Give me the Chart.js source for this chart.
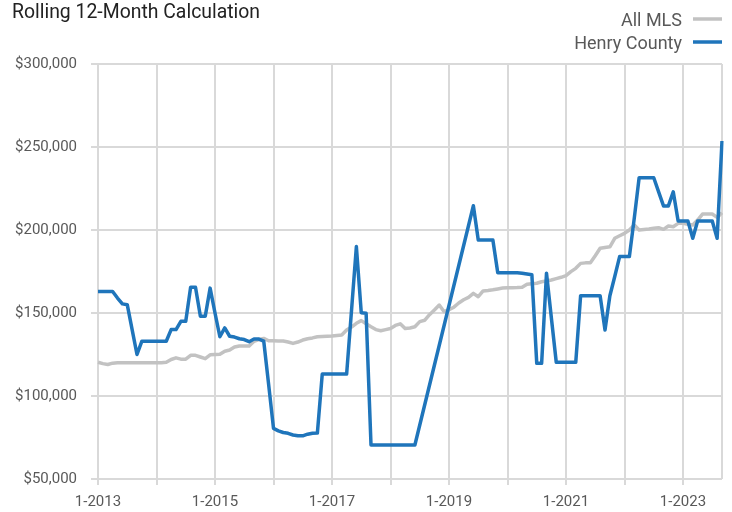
<!doctype html>
<html lang="en">
<head>
  <meta charset="utf-8">
  <title>Rolling 12-Month Calculation</title>
  <script src="https://cdn.jsdelivr.net/npm/chart.js"></script>
  <style>
    body { margin: 0; background: #fff; }
    #chart { display: block; }
  </style>
</head>
<body>
<canvas id="chart" width="732" height="512"></canvas>
<script>
// months 1-2013 .. 9-2023
const startYear = 2013;
const monthCount = 129;
const monthLabels = [];
for (let i = 0; i < monthCount; i++) {
  monthLabels.push((i % 12 + 1) + '-' + (startYear + Math.floor(i / 12)));
}

const seriesNames = ['All MLS', 'Henry County'];
const seriesColors = ['#c2c2c2', '#1f75bb'];

const allMls = [
  120300, 119500, 119000, 119800, 120000, 120000, 120000, 120000, 120000, 120000, 120000, 120000,
  120000, 120000, 120300, 122000, 123000, 122200, 122200, 124500, 124500, 123500, 122500, 124800,
  125000, 125200, 127000, 127700, 129500, 130100, 130100, 130100, 133000, 134000, 134700, 133300,
  133300, 133200, 133100, 132500, 131700, 132500, 133700, 134500, 135000, 135700, 135900, 136000,
  136100, 136500, 136700, 139700, 141500, 143800, 145400, 143500, 141700, 140000, 139300, 140000,
  140700, 142500, 143500, 140600, 141000, 141700, 144800, 145600, 149000, 151800, 154800, 150800,
  152000, 153500, 156000, 158000, 159400, 161800, 159800, 163300, 163600, 164000, 164500, 165000,
  165200, 165200, 165300, 165500, 167300, 167600, 167900, 168800, 169300, 169900, 170700, 171500,
  172500, 174900, 176900, 179900, 180200, 180300, 184500, 189000, 189500, 189900, 195000, 196500,
  198000, 200000, 203000, 200000, 200300, 200600, 201000, 201400, 200400, 202400, 202000, 204000,
  204000, 203500, 203000, 206000, 209600, 209600, 209600, 207600, 210400
];

const henryCounty = [
  163000, 163000, 163000, 163000, 159000, 155500, 155000, 140000, 125000, 133000, 133000, 133000,
  133000, 133000, 133000, 140000, 140000, 145000, 145000, 165500, 165500, 148000, 148000, 165000,
  150000, 135700, 141000, 136000, 135500, 134500, 134000, 132700, 134300, 134300, 133000, 107000,
  80500, 79000, 78000, 77500, 76500, 76000, 76000, 77000, 77600, 77700, 113200, 113200,
  113200, 113200, 113200, 113200, 151500, 190000, 150200, 149800, 70500, 70500, 70500, 70500,
  70500, 70500, 70500, 70500, 70500, 70500, null, null, null, null, null, null,
  null, null, null, null, null, 214600, 194000, 194000, 194000, 194000, 174300, 174300,
  174300, 174300, 174300, 174000, 173500, 173000, 119700, 119700, 174000, 147000, 120300, 120300,
  120300, 120300, 120300, 160400, 160400, 160400, 160400, 160400, 139800, 160400, 172000, 184000,
  184000, 184000, 207000, 231500, 231500, 231500, 231500, 223000, 214500, 214500, 223000, 205400,
  205400, 205400, 195000, 205400, 205400, 205400, 205400, 195000, 253600
];

const yTicks = [50000, 100000, 150000, 200000, 250000, 300000];

const FONT = 'Roboto, "Liberation Sans", sans-serif';
const GRID = '#d9d9d9';

// title and a legend with the line sample on the right
const headerPlugin = {
  id: 'header',
  afterDraw(chart) {
    const c = chart.ctx;
    c.save();
    c.fillStyle = '#222';
    c.font = '19.4px ' + FONT;
    c.textAlign = 'left';
    c.textBaseline = 'alphabetic';
    c.fillText('Rolling 12-Month Calculation', 12, 18);

    c.font = '18px ' + FONT;
    c.textAlign = 'right';
    const rows = [26, 49];
    seriesNames.forEach((name, i) => {
      c.fillStyle = '#595959';
      c.fillText(name, 682, rows[i]);
      c.strokeStyle = seriesColors[i];
      c.lineWidth = 3.5;
      c.beginPath();
      c.moveTo(693, rows[i] - 7);
      c.lineTo(722, rows[i] - 7);
      c.stroke();
    });
    c.restore();
  }
};

const ctx = document.getElementById('chart').getContext('2d');
const chart = new Chart(ctx, {
  type: 'line',
  data: {
    labels: monthLabels,
    datasets: [
      {
        label: seriesNames[1],
        data: henryCounty,
        borderColor: seriesColors[1],
        borderWidth: 3.5,
        spanGaps: true
      },
      {
        label: seriesNames[0],
        data: allMls,
        borderColor: seriesColors[0],
        borderWidth: 3.5
      }
    ]
  },
  options: {
    responsive: false,
    animation: false,
    layout: { padding: { top: 64, right: 10, left: 0, bottom: 0 } },
    elements: { point: { radius: 0 }, line: { tension: 0, borderJoinStyle: 'round' } },
    plugins: {
      legend: { display: false },
      title: { display: false },
      tooltip: { enabled: false }
    },
    scales: {
      x: {
        afterFit(scale) { scale.height = 33; },
        border: { display: false },
        grid: {
          color: c => (c.index % 12 === 0 || c.index === monthCount - 1) ? GRID : 'rgba(0,0,0,0)',
          tickColor: c => c.index % 12 === 0 ? GRID : 'rgba(0,0,0,0)',
          lineWidth: 2,
          tickLength: 6
        },
        ticks: {
          autoSkip: false,
          maxRotation: 0,
          padding: 8,
          color: '#595959',
          font: { family: FONT, size: 15 },
          callback: (v, i) => i % 24 === 0 ? monthLabels[i] : ''
        }
      },
      y: {
        min: yTicks[0],
        max: yTicks[yTicks.length - 1],
        afterFit(scale) { scale.width = 98; },
        afterBuildTicks(scale) { scale.ticks = yTicks.map(v => ({ value: v })); },
        border: { display: false },
        grid: { color: GRID, lineWidth: 2, tickLength: 7 },
        ticks: {
          padding: 14,
          color: '#595959',
          font: { family: FONT, size: 15 },
          callback: v => '$' + v.toLocaleString('en-US')
        }
      }
    }
  },
  plugins: [headerPlugin]
});
</script>
</body>
</html>
